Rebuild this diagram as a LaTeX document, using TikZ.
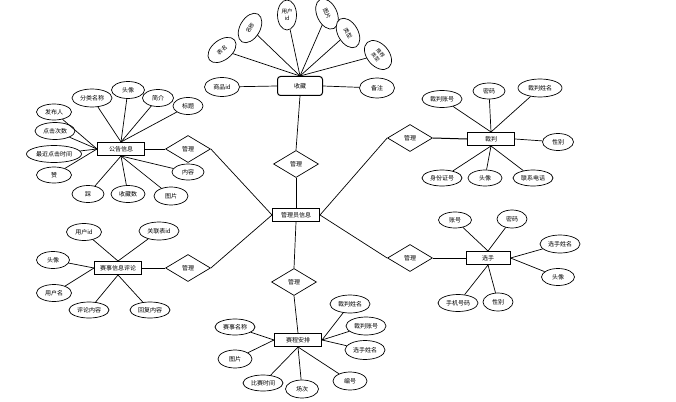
\documentclass[tikz,border=0pt]{standalone}
\usepackage{fontspec}
\setmainfont{Noto Sans CJK SC}
\usetikzlibrary{shapes.geometric}

\begin{document}
\begin{tikzpicture}[
            x = 1pt, y = -1pt, % pixel grid of the picture
            font = \fontsize{6}{6.5}\selectfont,
            line width = 0.7pt % line style
        ]

        \tikzstyle{entity}=[
            draw,
            line width = 1pt,
            fill = white,
            inner sep = 0pt,
            minimum width = 47pt,
            minimum height = 13pt
        ]
        \tikzstyle{relation}=[
            draw,
            diamond,
            fill = white,
            inner sep = 0pt,
            minimum width = 45pt,
            minimum height = 27pt
        ]
        \tikzstyle{attr}=[
            draw,
            ellipse,
            fill = white,
            inner sep = 0pt,
            minimum width = 34pt,
            minimum height = 17pt
        ]
        \tikzstyle{wide}=[attr, minimum width = 40pt]
        \tikzstyle{tilted}=[attr, minimum width = 32pt, minimum height = 20pt, font = \fontsize{5.5}{6}\selectfont]

        \useasboundingbox (0,0) rectangle (676,401);

	% entities
        \node[entity] (admin) at (296,215) {管理员信息};
        \node[entity, rounded corners = 3pt, minimum width = 45pt, minimum height = 19pt] (fav) at (300,86) {收藏};
        \node[entity] (news) at (121,149) {公告信息};
        \node[entity] (ref) at (491,139) {裁判};
        \node[entity] (comment) at (118,268) {赛事信息评论};
        \node[entity, minimum width = 44pt] (player) at (488,258) {选手};
        \node[entity] (sched) at (298,340) {赛程安排};

	% relations
        \node[relation] (rfav) at (296,164) {管理};
        \node[relation] (rnews) at (188,149) {管理};
        \node[relation] (rcomment) at (188,268) {管理};
        \node[relation] (rref) at (410,138) {管理};
        \node[relation] (rplayer) at (410,258) {管理};
        \node[relation] (rsched) at (294,282) {管理};

        \draw (fav.south) -- (rfav.north);
        \draw (rfav.south) -- (admin.north);
        \draw[line width = 1pt] (news.east) -- (rnews.west);
        \draw (rnews.east) -- (admin.west);
        \draw[line width = 1pt] (comment.east) -- (rcomment.west);
        \draw (rcomment.east) -- (admin.west);
        \draw (admin.east) -- (rref.west);
        \draw[line width = 1pt] (rref.east) -- (ref.west);
        \draw (admin.east) -- (rplayer.west);
        \draw[line width = 1pt] (rplayer.east) -- (player.west);
        \draw (admin.south) -- (rsched.north);
        \draw (rsched.south) -- (sched.north);

	% attributes of fav
        \node[attr, minimum width = 35pt, minimum height = 19pt] (fav1) at (222,87) {商品id};
        \node[attr, minimum width = 35pt, minimum height = 20pt] (fav2) at (377,88) {备注};
        \node[tilted, rotate = 38] (fav3) at (222,50) {表名};
        \node[tilted, rotate = 60] (fav4) at (250,28) {名称};
        \node[attr, minimum width = 19pt, minimum height = 30pt, align = center, font = \fontsize{5.5}{7}\selectfont] (fav5) at (287,15) {用户\\id};
        \node[tilted, rotate = -65] (fav6) at (327,14) {图片};
        \node[tilted, rotate = -60] (fav7) at (348,33) {类型};
        \node[tilted, rotate = -50, align = center, minimum width = 33pt, minimum height = 22pt, font = \fontsize{5}{6.5}\selectfont] (fav8) at (378,55) {推荐\\类型};

        \draw (fav.west) -- (fav1);
        \draw (fav.east) -- (fav2);
        \foreach \i in {3,...,8}
            \draw (fav.north) -- (fav\i);

	% attributes of news
        \node[attr, minimum width = 35pt, minimum height = 16pt] (news1) at (54,112) {发布人};
        \node[wide] (news2) at (55,131) {点击次数};
        \node[attr, minimum width = 55pt] (news3) at (54,154) {最近点击时间};
        \node[attr, minimum width = 35pt, minimum height = 16pt] (news4) at (54,175) {赞};
        \node[wide, minimum height = 18pt] (news5) at (92,98) {分类名称};
        \node[attr, minimum width = 33pt] (news6) at (128,90) {头像};
        \node[attr, minimum width = 31pt] (news7) at (158,98) {简介};
        \node[attr, minimum width = 30pt] (news8) at (188,106) {标题};
        \node[attr, minimum width = 32pt, minimum height = 16pt] (news9) at (188,172) {内容};
        \node[attr, minimum width = 32pt] (news10) at (88,194) {踩};
        \node[attr] (news11) at (128,194) {收藏数};
        \node[attr, minimum height = 18pt] (news12) at (171,196) {图片};

        \foreach \i in {1,...,4}
            \draw (news.west) -- (news\i);
        \foreach \i in {5,...,8}
            \draw (news.north) -- (news\i);
        \foreach \i in {9,...,12}
            \draw (news.south) -- (news\i);

	% attributes of ref
        \node[wide] (ref1) at (442,99) {裁判账号};
        \node[attr, minimum width = 32pt, minimum height = 16pt] (ref2) at (489,91) {密码};
        \node[attr, minimum width = 44pt, minimum height = 18pt] (ref3) at (540,88) {裁判姓名};
        \node[attr, minimum width = 31pt] (ref4) at (558,142) {性别};
        \node[wide, minimum height = 16pt] (ref5) at (442,178) {身份证号};
        \node[attr, minimum height = 16pt] (ref6) at (485,178) {头像};
        \node[wide, minimum height = 16pt] (ref7) at (533,178) {联系电话};

        \foreach \i in {1,2,3}
            \draw (ref.north) -- (ref\i);
        \draw (ref.east) -- (ref4);
        \foreach \i in {5,6,7}
            \draw (ref.south) -- (ref\i);

	% attributes of comment
        \node[attr, minimum width = 35pt] (comment1) at (84,232) {用户id};
        \node[wide, minimum height = 18pt] (comment2) at (159,231) {关联表id};
        \node[attr, minimum width = 33pt] (comment3) at (53,260) {头像};
        \node[attr, minimum width = 35pt] (comment4) at (54,293) {用户名};
        \node[wide, minimum height = 16pt] (comment5) at (89,310) {评论内容};
        \node[wide, minimum height = 16pt] (comment6) at (150,310) {回复内容};

        \foreach \i in {1,2}
            \draw (comment.north) -- (comment\i);
        \foreach \i in {3,4}
            \draw (comment.west) -- (comment\i);
        \foreach \i in {5,6}
            \draw (comment.south) -- (comment\i);

	% attributes of player
        \node[attr, minimum width = 33pt, minimum height = 16pt] (player1) at (455,220) {账号};
        \node[attr, minimum width = 30pt, minimum height = 18pt] (player2) at (512,219) {密码};
        \node[wide, minimum height = 18pt] (player3) at (560,244) {选手姓名};
        \node[attr, minimum width = 33pt] (player4) at (558,277) {头像};
        \node[wide] (player5) at (458,303) {手机号码};
        \node[attr, minimum width = 30pt, minimum height = 18pt] (player6) at (498,302) {性别};

        \foreach \i in {1,2}
            \draw (player.north) -- (player\i);
        \foreach \i in {3,4}
            \draw (player.east) -- (player\i);
        \foreach \i in {5,6}
            \draw (player.south) -- (player\i);

	% attributes of sched
        \node[wide, minimum height = 16pt] (sched1) at (235,327) {赛事名称};
        \node[attr, minimum height = 18pt] (sched2) at (235,359) {图片};
        \node[wide, minimum height = 16pt] (sched3) at (263,383) {比赛时间};
        \node[attr, minimum width = 33pt, minimum height = 18pt] (sched4) at (302,389) {场次};
        \node[attr, minimum height = 18pt] (sched5) at (350,381) {编号};
        \node[wide, minimum height = 18pt] (sched6) at (350,304) {裁判姓名};
        \node[wide, minimum height = 18pt] (sched7) at (366,326) {裁判账号};
        \node[wide, minimum height = 19pt] (sched8) at (365,350) {选手姓名};

        \foreach \i in {1,2}
            \draw (sched.west) -- (sched\i);
        \foreach \i in {3,4,5}
            \draw (sched.south) -- (sched\i);
        \foreach \i in {6,7,8}
            \draw (sched.east) -- (sched\i);

  \end{tikzpicture}
\end{document}
